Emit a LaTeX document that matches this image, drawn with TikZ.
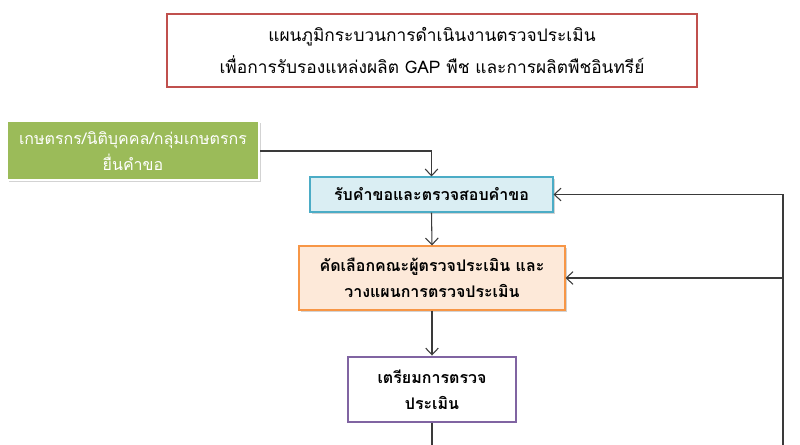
\documentclass[tikz,border=0pt]{standalone}
\usepackage{fontspec}
\newfontfamily\thaifont[Script=Thai]{Loma}
\usetikzlibrary{arrows.meta,positioning,shadows}
\definecolor{titlered}{HTML}{C0504D}
\definecolor{farmgreen}{HTML}{9BBB59}
\definecolor{askblue}{HTML}{DAEEF3}
\definecolor{askbluedraw}{HTML}{4BACC6}
\definecolor{teamorange}{HTML}{FDE9D9}
\definecolor{teamorangedraw}{HTML}{F79646}
\definecolor{prepviolet}{HTML}{8064A2}
\definecolor{linegray}{HTML}{3A3A3A}

\begin{document}
\begin{tikzpicture}[x=0.75pt,y=-0.75pt,
  every node/.style={font=\thaifont\fontsize{12}{19.5}\selectfont, align=center, inner sep=0pt},
  titlebox/.style={draw=titlered, line width=2.2pt, minimum width=397.5pt, minimum height=54.75pt,
    font=\thaifont\fontsize{13}{24}\selectfont},
  flowbox/.style={line width=0.8pt, drop shadow={opacity=0.35,shadow xshift=1.2pt,shadow yshift=-1.5pt}},
  flowarrow/.style={draw=linegray, line width=0.8pt, -{Straight Barb[length=5pt,width=9.5pt]}},
  flowline/.style={draw=linegray, line width=0.8pt}]
  \useasboundingbox (0,0) rectangle (800,445);

  \node[titlebox] (title) at (432,50.5) {แผนภูมิกระบวนการดำเนินงานตรวจประเมิน\\เพื่อการรับรองแหล่งผลิต GAP พืช และการผลิตพืชอินทรีย์}; %Title

  \node[flowbox, fill=farmgreen, draw=white, line width=1.5pt, text=white,
    minimum width=189pt, minimum height=44.25pt] (farmer) at (133,151)
    {เกษตรกร/นิติบุคคล/กลุ่มเกษตรกร\\ยื่นคำขอ}; %Applicant

  \node[flowbox, fill=askblue, draw=askbluedraw, minimum width=182.25pt, minimum height=26.25pt,
    font=\thaifont\bfseries\fontsize{12}{19.5}\selectfont] (request) at (431.5,194.5)
    {รับคำขอและตรวจสอบคำขอ}; %Receive request

  \node[flowbox, fill=teamorange, draw=teamorangedraw, minimum width=199.5pt, minimum height=48pt,
    font=\thaifont\bfseries\fontsize{12}{19.5}\selectfont] (team) at (432,278)
    {คัดเลือกคณะผู้ตรวจประเมิน และ\\วางแผนการตรวจประเมิน}; %Select team

  \node[fill=white, draw=prepviolet, line width=2.2pt, minimum width=126pt, minimum height=48.75pt,
    font=\thaifont\bfseries\fontsize{12}{19.5}\selectfont] (prepare) at (432,389.5)
    {เตรียมการตรวจ\\ประเมิน}; %Prepare

  \coordinate (downend) at (432,445);   %Line leaves picture
  \coordinate (backbot) at (783,445);   %Return line, bottom
  \coordinate (backtop) at (783,194.5); %Return line, top

  \draw[flowarrow] (farmer.east) -| (request.north);
  \draw[flowarrow] (request.south) -- (team.north);
  \draw[flowarrow] (team.south) -- (prepare.north);
  \draw[flowline] (prepare.south) -- (downend);
  \draw[flowarrow] (backbot) -- (backtop) -- (request.east);
  \draw[flowarrow] (backtop |- team.east) -- (team.east);
\end{tikzpicture}
\end{document}
